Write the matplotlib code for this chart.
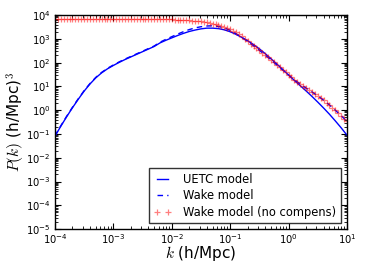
import matplotlib
matplotlib.use("Agg")
import matplotlib.pyplot as plt
import matplotlib.ticker as mticker
import numpy as np

plt.rcParams['mathtext.fontset'] = 'cm'
plt.rcParams['font.family'] = 'DejaVu Sans'

# sample grids in k (h/Mpc)
k_line = np.logspace(-4, 1, 51)
k_red = np.logspace(-4, 1, 101)

# log10 P(k), UETC model
logP_uetc = [-1.10, -0.68, -0.28, 0.10, 0.46, 0.80, 1.10, 1.36, 1.57, 1.74,
             1.88, 2.01, 2.13, 2.24, 2.35, 2.46, 2.57, 2.68, 2.83, 2.94,
             3.04, 3.14, 3.23, 3.31, 3.37, 3.42, 3.45, 3.45, 3.43, 3.38,
             3.30, 3.19, 3.06, 2.92, 2.76, 2.58, 2.38, 2.16, 1.94, 1.71,
             1.48, 1.25, 1.03, 0.81, 0.58, 0.34, 0.09, -0.17, -0.45, -0.74,
             -1.05]

# log10 P(k), wake model
logP_wake = [-1.08, -0.66, -0.26, 0.12, 0.48, 0.82, 1.12, 1.38, 1.59, 1.76,
             1.90, 2.03, 2.15, 2.26, 2.37, 2.48, 2.59, 2.70, 2.86, 2.98,
             3.09, 3.20, 3.30, 3.39, 3.46, 3.51, 3.54, 3.55, 3.52, 3.46,
             3.36, 3.22, 3.06, 2.89, 2.71, 2.52, 2.32, 2.11, 1.90, 1.69,
             1.48, 1.28, 1.10, 0.93, 0.77, 0.60, 0.42, 0.22, 0.00, -0.23,
             -0.47]

# log10 P(k), wake model without compensation
logP_nocomp = [3.83, 3.83, 3.83, 3.83, 3.83, 3.83, 3.83, 3.83, 3.83, 3.83,
               3.83, 3.83, 3.83, 3.83, 3.83, 3.83, 3.83, 3.83, 3.83, 3.83,
               3.83, 3.83, 3.83, 3.83, 3.83, 3.83, 3.83, 3.83, 3.83, 3.83,
               3.83, 3.83, 3.83, 3.83, 3.83, 3.83, 3.82, 3.82, 3.82, 3.82,
               3.82, 3.81, 3.81, 3.80, 3.80, 3.79, 3.78, 3.77, 3.76, 3.75,
               3.73, 3.71, 3.69, 3.67, 3.64, 3.61, 3.58, 3.54, 3.50, 3.45,
               3.40, 3.34, 3.27, 3.19, 3.10, 3.00, 2.90, 2.80, 2.71, 2.61,
               2.52, 2.42, 2.32, 2.22, 2.11, 2.01, 1.90, 1.80, 1.69, 1.59,
               1.48, 1.38, 1.28, 1.19, 1.10, 1.01, 0.93, 0.85, 0.77, 0.69,
               0.60, 0.51, 0.42, 0.32, 0.22, 0.11, 0.00, -0.11, -0.23, -0.35,
               -0.47]


def main():
    fig = plt.figure(figsize=(3.66, 2.74), dpi=100)
    ax = fig.add_axes([0.150, 0.164, 0.798, 0.781])

    ax.plot(k_line, 10**np.array(logP_uetc), 'b-', lw=1.0, label='UETC model')
    ax.plot(k_line, 10**np.array(logP_wake), 'b--', lw=1.0, dashes=(4, 3),
            label='Wake model')
    ax.plot(k_red, 10**np.array(logP_nocomp), 'r+', ms=4.5, mew=0.9, alpha=0.5,
            label='Wake model (no compens)')

    ax.set_xscale('log')
    ax.set_yscale('log')
    ax.set_xlim(1e-4, 1e1)
    ax.set_ylim(1e-5, 1e4)

    for axis in (ax.xaxis, ax.yaxis):
        axis.set_major_locator(mticker.LogLocator(base=10, numticks=20))
        axis.set_minor_locator(mticker.LogLocator(base=10, subs=np.arange(2, 10),
                                                  numticks=20))
        axis.set_minor_formatter(mticker.NullFormatter())

    ax.tick_params(which='both', direction='in', top=True, right=True,
                   labelsize=7.2)
    ax.tick_params(axis='x', pad=2)
    ax.tick_params(axis='y', pad=3)
    ax.tick_params(which='major', length=4)
    ax.tick_params(which='minor', length=2)
    for s in ax.spines.values():
        s.set_linewidth(1.0)

    ax.set_xlabel(r'$k$ (h/Mpc)', fontsize=11)
    ax.xaxis.set_label_coords(0.5, -0.072)
    ax.set_ylabel(r'$P(k)$ (h/Mpc)$^3$', fontsize=11)
    ax.yaxis.set_label_coords(-0.097, 0.5)

    leg = ax.legend(loc='lower right', fontsize=8.3, numpoints=2,
                    fancybox=False, handlelength=1.6, handletextpad=1.0,
                    labelspacing=0.3, borderpad=0.4, borderaxespad=0.5)
    leg.get_frame().set_edgecolor('black')
    leg.get_frame().set_linewidth(1.0)

    fig.savefig('out.png', dpi=100, facecolor='white')


if __name__ == "__main__":
    main()
